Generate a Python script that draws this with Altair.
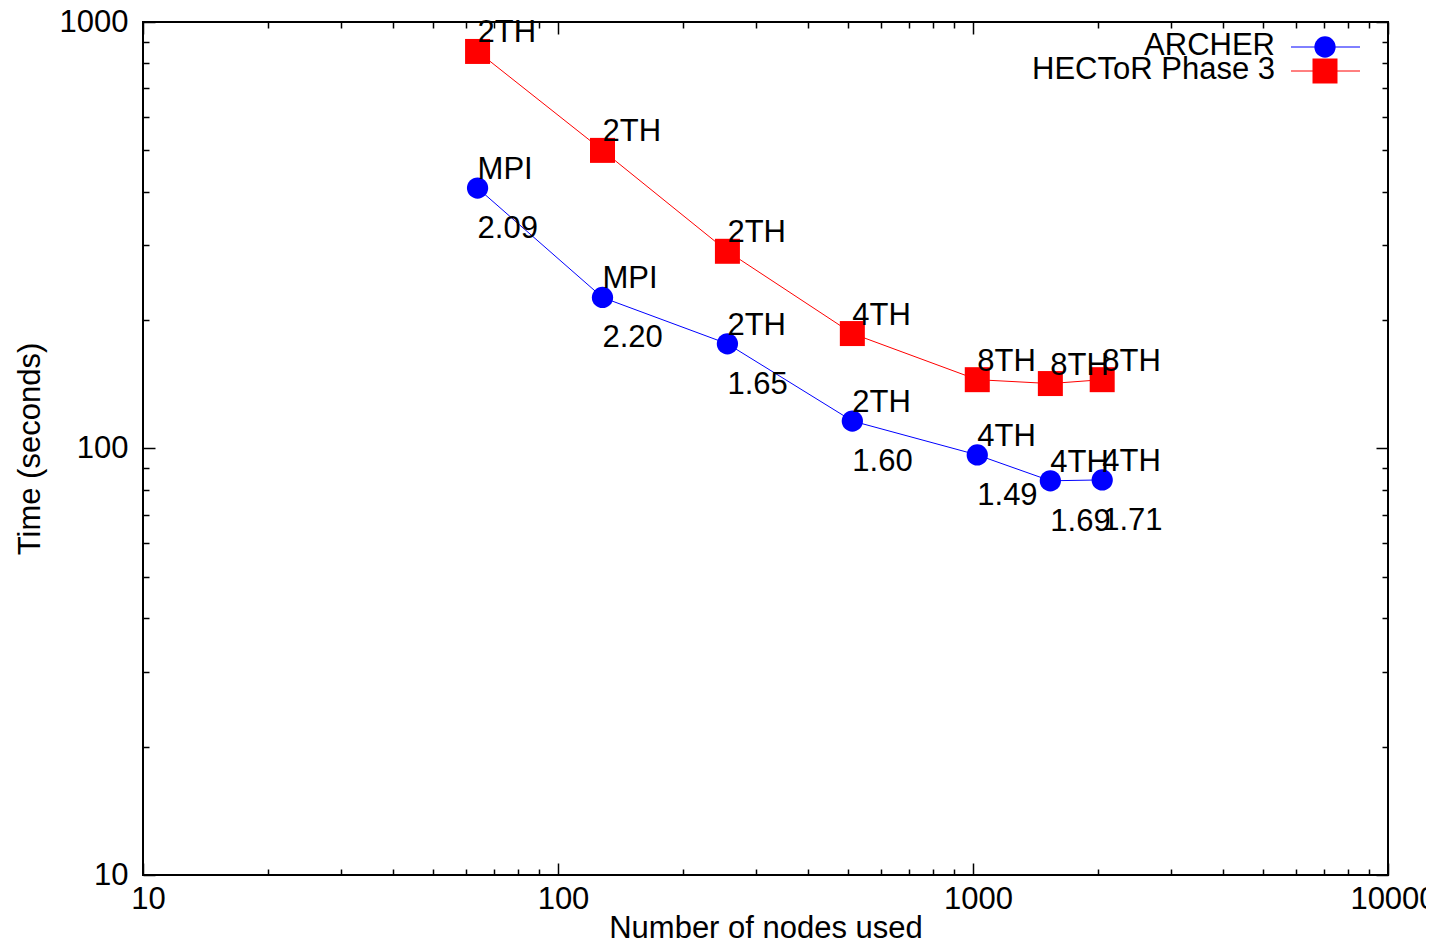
import altair as alt
import pandas as pd

# ---- data ----
nodes = [64, 128, 256, 512, 1024, 1536, 2048]
archer_time = [408, 226, 176, 116, 96.6, 84.0, 84.4]
hector_time = [853, 500, 290, 186, 145, 142, 145]
archer_mode = ["MPI", "MPI", "2TH", "2TH", "4TH", "4TH", "4TH"]
hector_mode = ["2TH", "2TH", "2TH", "4TH", "8TH", "8TH", "8TH"]
ratio_labels = ["2.09", "2.20", "1.65", "1.60", "1.49", "1.69", "1.71"]

series_names = ["ARCHER", "HECToR Phase 3"]
series_colors = ["#0000ff", "#ff0000"]
series_shapes = ["circle", "square"]
series_sizes = [452, 625]

x_major = [10, 100, 1000, 10000]
x_minor = [20, 30, 40, 50, 60, 70, 80, 90, 200, 300, 400, 500, 600, 700, 800, 900,
           2000, 3000, 4000, 5000, 6000, 7000, 8000, 9000]
y_major = [10, 100, 1000]
y_minor = [20, 30, 40, 50, 60, 70, 80, 90, 200, 300, 400, 500, 600, 700, 800, 900]

rows = []
for i, n in enumerate(nodes):
    rows.append({"nodes": n, "time": archer_time[i], "series": "ARCHER",
                 "mode": archer_mode[i], "ratio": ratio_labels[i]})
for i, n in enumerate(nodes):
    rows.append({"nodes": n, "time": hector_time[i], "series": "HECToR Phase 3",
                 "mode": hector_mode[i], "ratio": ""})
df = pd.DataFrame(rows)

W, H = 1245, 853
FONT = "Liberation Sans"
FS = 31

xscale = alt.Scale(type="log", domain=[10, 10000], nice=False)
yscale = alt.Scale(type="log", domain=[10, 1000], nice=False)
color = alt.Color("series:N", scale=alt.Scale(domain=series_names, range=series_colors), legend=None)
shape = alt.Shape("series:N", scale=alt.Scale(domain=series_names, range=series_shapes), legend=None)
size = alt.Size("series:N", scale=alt.Scale(domain=series_names, range=series_sizes), legend=None)


def tick_axis(orient, offset, values, ts):
    return alt.Axis(orient=orient, offset=offset, values=values, tickSize=ts, labels=False,
                    domain=False, grid=False, title="", tickColor="black", tickWidth=1.5)


base = alt.Chart(df)

# data line layer carrying the labelled axes
lines = base.mark_line(strokeWidth=1).encode(
    x=alt.X("nodes:Q", scale=xscale, title="Number of nodes used",
            axis=alt.Axis(values=x_major, format="d", ticks=False, domain=False, grid=False,
                          labelOverlap=False, labelFlush=False, labelPadding=9, labelOffset=5,
                          titlePadding=-1)),
    y=alt.Y("time:Q", scale=yscale, title="Time (seconds)",
            axis=alt.Axis(values=y_major, format="d", ticks=False, domain=False, grid=False,
                          labelOverlap=False, labelFlush=False, labelPadding=15,
                          titlePadding=13)),
    color=color,
    detail="series:N",
)

tick_layers = []
for xo, yo, xv, yv, ts in [
    ("top", "right", x_major, y_major, 12),
    ("top", "right", x_minor, y_minor, 6),
    ("bottom", "left", x_major, y_major, 12),
    ("bottom", "left", x_minor, y_minor, 6),
]:
    tick_layers.append(
        base.mark_point(opacity=0).encode(
            x=alt.X("nodes:Q", scale=xscale, axis=tick_axis(xo, -H, xv, ts)),
            y=alt.Y("time:Q", scale=yscale, axis=tick_axis(yo, -W, yv, ts)),
        )
    )

points = base.mark_point(filled=True, opacity=1, strokeWidth=0).encode(
    x=alt.X("nodes:Q", scale=xscale, axis=None),
    y=alt.Y("time:Q", scale=yscale, axis=None),
    color=color, shape=shape, size=size,
)

mode_text = base.mark_text(align="left", baseline="alphabetic", dy=-9, font=FONT,
                           fontSize=FS, color="black").encode(
    x=alt.X("nodes:Q", scale=xscale, axis=None),
    y=alt.Y("time:Q", scale=yscale, axis=None),
    text="mode:N",
)

ratio_text = base.transform_filter(alt.datum.ratio != "").mark_text(
    align="left", baseline="alphabetic", dy=50, font=FONT, fontSize=FS, color="black").encode(
    x=alt.X("nodes:Q", scale=xscale, axis=None),
    y=alt.Y("time:Q", scale=yscale, axis=None),
    text="ratio:N",
)

# manual gnuplot-style key (label left of sample)
legend_layers = []
for i, name in enumerate(series_names):
    ld = pd.DataFrame({"series": [name]})
    lb = alt.Chart(ld)
    ly = 25 + 24 * i
    legend_layers.append(lb.mark_text(align="right", baseline="alphabetic", font=FONT,
                                      fontSize=FS, color="black").encode(
        x=alt.value(1132), y=alt.value(ly + 8), text="series:N"))
    legend_layers.append(lb.mark_rule(strokeWidth=1).encode(
        x=alt.value(1148), x2=alt.value(1217), y=alt.value(ly), color=color))
    legend_layers.append(lb.mark_point(filled=True, opacity=1, strokeWidth=0).encode(
        x=alt.value(1182), y=alt.value(ly), color=color, shape=shape, size=size))

chart = alt.layer(lines, *tick_layers, points, mode_text, ratio_text, *legend_layers).resolve_axis(
    x="independent", y="independent"
).properties(
    width=W, height=H,
    autosize=alt.AutoSizeParams(type="none"),
    padding={"left": 135, "top": 14, "right": 38, "bottom": 64},
).configure_view(
    stroke="black", strokeWidth=2
).configure_axis(
    labelFont=FONT, labelFontSize=FS, labelColor="black",
    titleFont=FONT, titleFontSize=FS, titleColor="black", titleFontWeight="normal",
)

chart.save("out.html", embed_options={"renderer": "svg", "actions": False})
